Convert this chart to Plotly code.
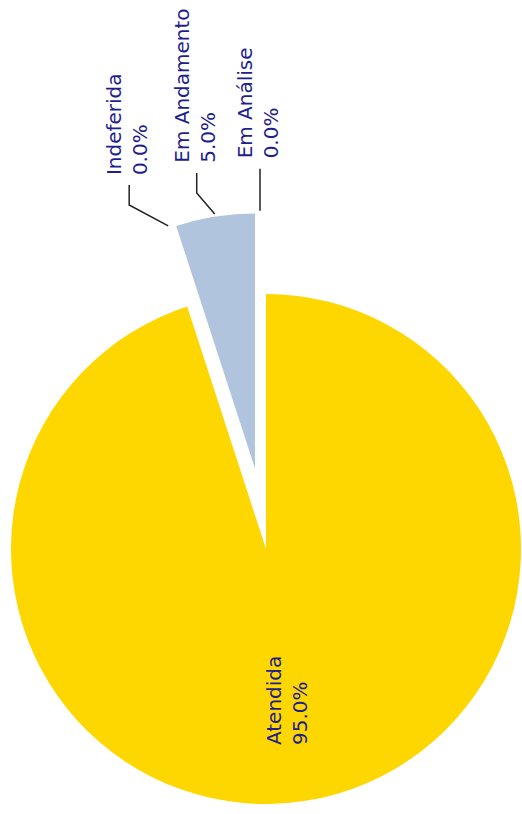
import math
import plotly.graph_objects as go

# ---- data ----
labels = ["Em Análise", "Em Andamento", "Indeferida", "Atendida"]
values = [0, 5, 0, 95]
slice_colors = ["#B0C4DE", "#B0C4DE", "#B0C4DE", "#FFD700"]
pulled = ["Em Andamento"]

# ---- layout geometry (pixels) ----
W, H = 522, 814
R = 255
CX, CY = 266, 549
PULL = 0.32
FONT = dict(family="DejaVu Sans, Verdana, sans-serif", size=20, color="#1E1E8C")

total = sum(values)
starts, mids = [], []
acc = 0.0
for v in values:
    a0 = acc / total * 360.0
    acc += v
    a1 = acc / total * 360.0
    starts.append(a0)
    mids.append((a0 + a1) / 2)


def direction(deg):
    # counterclockwise from 12 o'clock, screen coords (y down)
    r = math.radians(deg)
    return -math.sin(r), -math.cos(r)


def px(x):
    return x / W


def py(y):
    return 1 - y / H


def domain(cx, cy):
    return dict(x=[px(cx - R), px(cx + R)], y=[py(cy + R), py(cy - R)])


# pulled slice centre
pidx = labels.index(pulled[0])
dx, dy = direction(mids[pidx])
BX = max(R, CX + PULL * R * dx)
BY = CY + PULL * R * dy

gold_colors = [c if l not in pulled else "rgba(0,0,0,0)" for l, c in zip(labels, slice_colors)]
blue_colors = [c if l in pulled else "rgba(0,0,0,0)" for l, c in zip(labels, slice_colors)]

fig = go.Figure()
for cols, (cx, cy) in [(gold_colors, (CX, CY)), (blue_colors, (BX, BY))]:
    fig.add_trace(go.Pie(
        labels=labels, values=values, sort=False, direction="counterclockwise",
        rotation=0, marker=dict(colors=cols, line=dict(width=0)),
        textinfo="none", hoverinfo="label+percent", showlegend=False,
        domain=domain(cx, cy),
    ))

# ---- labels ----
annotations, shapes = [], []
# leader line style for outside labels: (angle nudge, elbow dx, elbow dy, rise, x shift)
leader = {
    "Indeferida": (1.7, -39, -21, 20, 0),
    "Em Andamento": (0, -18, -21, 20, 0),
    "Em Análise": (0, 0, 0, 42, 5),
}
for lab, val, mid in zip(labels, values, mids):
    pct = f"{val / total * 100:.1f}%"
    text = f"{lab}<br>{pct}"
    if lab in leader:
        nudge, edx, edy, rise, shift = leader[lab]
        ang = (mid if val > 0 else starts[labels.index(lab)]) + nudge
        ux, uy = direction(ang)
        sx, sy = BX + R * 1.01 * ux + shift, BY + R * 1.01 * uy
        ex, ey = sx + edx, sy + edy
        tx, ty = ex, ey - rise
        shapes.append(dict(
            type="path", xref="paper", yref="paper",
            path=f"M {px(sx)},{py(sy)} L {px(ex)},{py(ey)} L {px(tx)},{py(ty)}",
            line=dict(color="#222222", width=1.5),
        ))
        annotations.append(dict(
            x=px(tx - 2), y=py(ty - 8), xref="paper", yref="paper",
            text=text, showarrow=False, textangle=-90,
            xanchor="center", yanchor="bottom", align="left", font=FONT,
        ))
    else:
        ux, uy = direction(mid)
        lx, ly = CX + 0.6 * R * ux, CY + 0.6 * R * uy
        annotations.append(dict(
            x=px(lx - 3), y=py(ly), xref="paper", yref="paper",
            text=text, showarrow=False, textangle=-90,
            xanchor="center", yanchor="middle", align="left", font=FONT,
        ))

fig.update_layout(
    width=W, height=H, margin=dict(l=0, r=0, t=0, b=0),
    paper_bgcolor="white", plot_bgcolor="white",
    annotations=annotations, shapes=shapes,
)
fig.write_html(
    "out.html",
    config={"displayModeBar": False},
    post_script="document.body.style.margin='0';document.body.style.overflow='hidden';",
)
